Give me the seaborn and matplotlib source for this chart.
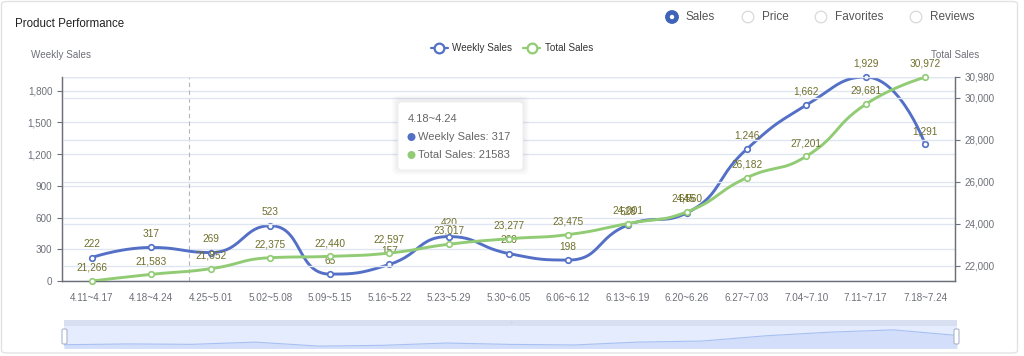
#!/usr/bin/env python3
# -*- coding: utf-8 -*-

import matplotlib as mpl  # type: ignore
import matplotlib.pyplot as plt  # type: ignore
import seaborn as sns  # type: ignore
import numpy as np
import pandas as pd
from matplotlib.patches import FancyBboxPatch, Circle, Rectangle  # type: ignore
from matplotlib.lines import Line2D  # type: ignore

mpl.use("Agg")

sns.set_style("white")
mpl.rcParams["font.family"] = ["Liberation Sans", "DejaVu Sans"]

# data
weeks = ["4.11~4.17", "4.18~4.24", "4.25~5.01", "5.02~5.08", "5.09~5.15",
         "5.16~5.22", "5.23~5.29", "5.30~6.05", "6.06~6.12", "6.13~6.19",
         "6.20~6.26", "6.27~7.03", "7.04~7.10", "7.11~7.17", "7.18~7.24"]
weekly_sales = [222, 317, 269, 523, 65, 157, 420, 260, 198, 528, 645,
                1246, 1662, 1929, 1291]
total_sales = [21266, 21583, 21852, 22375, 22440, 22597, 23017, 23277,
               23475, 24001, 24560, 26182, 27201, 29681, 30972]
left_ticks = [0, 300, 600, 900, 1200, 1500, 1800]
right_ticks = [22000, 24000, 26000, 28000, 30000, 30980]
tabs = ["Sales", "Price", "Favorites", "Reviews"]
tooltip_week = "4.18~4.24"

W, H = 1024, 356
BLUE = "#5470C6"
GREEN = "#91CC75"
AXIS = "#6E7079"
GRID = "#E0E6F1"
LABEL = "#6f6f2c"
FS = 7.1


def fx(px):
    return px / W


def fy(py):
    return 1 - py / H


def clamp(v, a, b):
    return np.minimum(np.maximum(v, np.minimum(a, b)), np.maximum(a, b))


def smooth_curve(ax, xs, ys, smooth=0.5, steps=30):
    # same bezier smoothing as echarts (control points kept inside neighbours)
    pts = ax.transData.transform(np.column_stack([xs, ys]))
    n = len(pts)
    t = np.linspace(0, 1, steps)[1:, None]
    out = [pts[0]]
    cp0 = pts[0].copy()
    for k in range(1, n):
        p = pts[k]
        prev = pts[k - 1]
        if k == n - 1:
            cp1 = p.copy()
            nxt_cp0 = p.copy()
        else:
            nxt = pts[k + 1]
            v = nxt - prev
            len_prev = np.hypot(*(p - prev))
            len_next = np.hypot(*(nxt - p))
            r = len_next / (len_prev + len_next)
            nxt_cp0 = clamp(p + v * smooth * r, nxt, p)
            v = nxt_cp0 - p
            cp1 = clamp(p - v * len_prev / len_next, prev, p)
            v = p - cp1
            nxt_cp0 = p + v * len_next / len_prev
        seg = (1 - t) ** 3 * prev + 3 * (1 - t) ** 2 * t * cp0 \
            + 3 * (1 - t) * t ** 2 * cp1 + t ** 3 * p
        out.extend(seg)
        cp0 = nxt_cp0
    out = ax.transData.inverted().transform(np.array(out))
    return pd.DataFrame({"x": out[:, 0], "y": out[:, 1]})


fig = plt.figure(figsize=(W / 100, H / 100), dpi=100)
fig.patch.set_facecolor("white")

# card
fig.patches.append(FancyBboxPatch((fx(1.5), fy(353)), fx(1016), 351.5 / H,
                                  boxstyle="round,pad=0,rounding_size=0.006",
                                  transform=fig.transFigure, facecolor="white",
                                  edgecolor="#e3e3e3", lw=1, zorder=-10))

fig.text(fx(15), fy(24), "Product Performance", fontsize=8.3, color="#222222",
         va="center", ha="left")

# radio tabs
tab_x = [672, 748, 821, 916]
for i, (name, px) in enumerate(zip(tabs, tab_x)):
    cx, cy = px / 100, (H - 17) / 100
    if i == 0:
        fig.patches.append(Circle((cx, cy), 0.062, transform=fig.dpi_scale_trans,
                                  facecolor="#3f63b8", edgecolor="#3f63b8", lw=1))
        fig.patches.append(Circle((cx, cy), 0.022, transform=fig.dpi_scale_trans,
                                  facecolor="white", edgecolor="none"))
    else:
        fig.patches.append(Circle((cx, cy), 0.058, transform=fig.dpi_scale_trans,
                                  facecolor="white", edgecolor="#d9d9d9", lw=0.9))
    fig.text(fx(px + 14), fy(17), name, fontsize=8.5, color="#555555",
             va="center", ha="left")

# main axes
ax = fig.add_axes([fx(62), fy(281), fx(955 - 62), (281 - 77) / H])
ax.set_facecolor("none")
ax2 = ax.twinx()
ax2.set_facecolor("none")

n = len(weeks)
ax.set_xlim(-0.5, n - 0.5)
ax.set_ylim(0, max(weekly_sales))
ax2.set_ylim(min(total_sales), 30980)

# grids from both axes
for v in left_ticks + [max(weekly_sales)]:
    ax.axhline(v, color=GRID, lw=1, zorder=0)
for v in right_ticks:
    ax2.axhline(v, color=GRID, lw=1, zorder=0)

ax.set_xticks(np.arange(n + 1) - 0.5)
ax.set_xticklabels([])
ax.set_xticks(np.arange(n), minor=True)
ax.set_xticklabels(weeks, minor=True)
ax.tick_params(axis="x", which="major", length=4.5, width=0.8, color=AXIS,
               direction="out")
ax.tick_params(axis="x", which="minor", length=0, pad=8.5, labelsize=FS,
               labelcolor=AXIS)

ax.set_yticks(left_ticks)
ax.set_yticklabels([f"{v:,}" for v in left_ticks])
ax.tick_params(axis="y", length=3.5, width=0.8, color=AXIS, direction="out",
               labelsize=FS, labelcolor=AXIS, pad=3.5)
ax2.set_yticks(right_ticks)
ax2.set_yticklabels([f"{v:,}" for v in right_ticks])
ax2.tick_params(axis="y", length=3.5, width=0.8, color=AXIS, direction="out",
                labelsize=FS, labelcolor=AXIS, pad=3.5)

for a in (ax, ax2):
    a.spines["top"].set_visible(False)
    for s in ("left", "right", "bottom"):
        a.spines[s].set_color(AXIS)
        a.spines[s].set_linewidth(0.9)

# axis pointer
ax.axvline(1.63, color="#b0b4be", lw=0.8, ls=(0, (4, 3)), zorder=1)

xs = np.arange(n)
sns.lineplot(data=smooth_curve(ax, xs, weekly_sales), x="x", y="y", ax=ax,
             sort=False, estimator=None, color=BLUE, lw=2.1, zorder=3)
sns.scatterplot(x=xs, y=weekly_sales, ax=ax, s=16, color="white",
                edgecolor=BLUE, linewidth=1.2, zorder=4, clip_on=False)
sns.lineplot(data=smooth_curve(ax2, xs, total_sales), x="x", y="y", ax=ax2,
             sort=False, estimator=None, color=GREEN, lw=2.1, zorder=3)
sns.scatterplot(x=xs, y=total_sales, ax=ax2, s=16, color="white",
                edgecolor=GREEN, linewidth=1.2, zorder=4, clip_on=False)
for a in (ax, ax2):
    a.set_xlabel("")
    a.set_ylabel("")
    a.set_xlim(-0.5, n - 0.5)
ax.set_ylim(0, max(weekly_sales))
ax2.set_ylim(min(total_sales), 30980)

# value labels
for a, vals in ((ax, weekly_sales), (ax2, total_sales)):
    for x, v in zip(xs, vals):
        a.annotate(f"{v:,}", xy=(x, v), xytext=(0, 6), textcoords="offset points",
                   ha="center", va="bottom", fontsize=FS + 0.2, color=LABEL,
                   zorder=6, annotation_clip=False)

# axis names
fig.text(fx(61), fy(55), "Weekly Sales", fontsize=FS, color=AXIS,
         ha="center", va="center")
fig.text(fx(955), fy(55), "Total Sales", fontsize=FS, color=AXIS,
         ha="center", va="center")

# legend
handles = [
    Line2D([], [], color=BLUE, lw=1.6, marker="o", markersize=7,
           markerfacecolor="white", markeredgewidth=1.6),
    Line2D([], [], color=GREEN, lw=1.6, marker="o", markersize=7,
           markerfacecolor="white", markeredgewidth=1.6),
]
fig.legend(handles, ["Weekly Sales", "Total Sales"], loc="center",
           bbox_to_anchor=(fx(512), fy(48)), ncol=2, frameon=False,
           fontsize=FS, handlelength=1.7, handletextpad=0.5,
           columnspacing=1.1, labelcolor="#333333")

# tooltip
tx, ty, tw, th = 398, 102, 125, 68
for k in range(6, 0, -1):
    fig.patches.append(FancyBboxPatch(
        ((tx - k) / 100, (H - ty - th - k + 1) / 100), (tw + 2 * k) / 100,
        (th + 2 * k) / 100, boxstyle="round,pad=0,rounding_size=0.06",
        transform=fig.dpi_scale_trans, facecolor="black", edgecolor="none",
        alpha=0.012, zorder=8))
fig.patches.append(FancyBboxPatch((tx / 100, (H - ty - th) / 100), tw / 100,
                                  th / 100, boxstyle="round,pad=0,rounding_size=0.04",
                                  transform=fig.dpi_scale_trans, facecolor="white",
                                  edgecolor="#eeeeee", lw=0.6, zorder=9))
ti = weeks.index(tooltip_week)
fig.text(fx(408), fy(119), tooltip_week, fontsize=8.0, color="#666666",
         va="center", ha="left", zorder=10)
for row, (name, val, col) in enumerate((("Weekly Sales", weekly_sales[ti], BLUE),
                                        ("Total Sales", total_sales[ti], GREEN))):
    yy = 137 + row * 18
    fig.patches.append(Circle((411.5 / 100, (H - yy) / 100), 0.04,
                              transform=fig.dpi_scale_trans, facecolor=col,
                              edgecolor="none", zorder=10))
    fig.text(fx(418), fy(yy), f"{name}: {val}", fontsize=8.0, color="#666666",
             va="center", ha="left", zorder=10)

# data zoom slider
sx0, sx1 = 64, 957
fig.patches.append(Rectangle((fx(sx0), fy(326)), fx(sx1 - sx0), 6 / H,
                             transform=fig.transFigure, facecolor="#d8dff0",
                             edgecolor="none", zorder=1))
sl = fig.add_axes([fx(sx0), fy(348), fx(sx1 - sx0), 22 / H])
sl.set_facecolor("#e5ecfd")
sns.lineplot(x=xs, y=weekly_sales, ax=sl, color="#a7c0f3", lw=0.8)
sl.fill_between(xs, weekly_sales, -200, color="#d3dffa", lw=0)
sl.set_xlim(0, n - 1)
sl.set_ylim(-150, 2370)
sl.set_xticks([])
sl.set_yticks([])
sl.set_xlabel("")
sl.set_ylabel("")
for s in sl.spines.values():
    s.set_visible(False)
fig.text(fx(510), fy(322.5), "⁘", fontsize=4, color="#b0b8cc",
         ha="center", va="center")
for hx in (62, 954):
    fig.patches.append(FancyBboxPatch((hx / 100, (H - 344) / 100), 0.05, 0.15,
                                      boxstyle="round,pad=0,rounding_size=0.015",
                                      transform=fig.dpi_scale_trans,
                                      facecolor="white", edgecolor="#a9b4cc",
                                      lw=0.8, zorder=5))

fig.savefig("out.png", dpi=100)
